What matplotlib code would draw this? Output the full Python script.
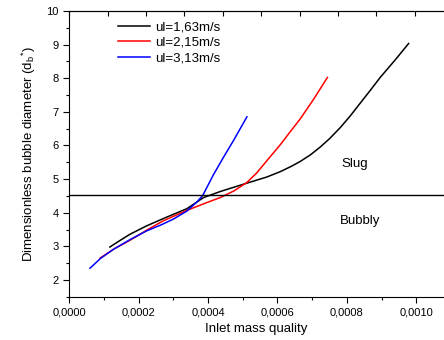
import numpy as np
import matplotlib
matplotlib.use("Agg")
import matplotlib.pyplot as plt
from matplotlib.ticker import FuncFormatter, MultipleLocator, FixedLocator

plt.rcParams['font.family'] = ['Liberation Sans', 'DejaVu Sans']

# Data
x_163 = [0.000117, 0.000150, 0.000175, 0.000223, 0.000281, 0.000339, 0.000387, 0.000435,
         0.000512, 0.000569, 0.000608, 0.000640, 0.000665, 0.000695, 0.000723, 0.000750,
         0.000781, 0.000810, 0.000838, 0.000867, 0.000896, 0.000940, 0.000978]
y_163 = [2.98, 3.20, 3.36, 3.61, 3.87, 4.12, 4.45, 4.63,
         4.88, 5.06, 5.22, 5.38, 5.52, 5.72, 5.95, 6.20,
         6.53, 6.88, 7.25, 7.63, 8.02, 8.55, 9.03]

x_215 = [0.0000886, 0.000130, 0.000175, 0.000223, 0.000271, 0.000339, 0.000396, 0.000435,
         0.000475, 0.000512, 0.000540, 0.000569, 0.000608, 0.000640, 0.000665, 0.000704,
         0.000744]
y_215 = [2.65, 2.93, 3.18, 3.48, 3.76, 4.07, 4.30, 4.45,
         4.65, 4.90, 5.18, 5.54, 6.02, 6.45, 6.78, 7.37,
         8.02]

x_313 = [0.0000597, 0.000090, 0.000127, 0.000175, 0.000223, 0.000265, 0.000300, 0.000339,
         0.000368, 0.000385, 0.000415, 0.000444, 0.000473, 0.000512]
y_313 = [2.35, 2.64, 2.91, 3.20, 3.46, 3.64, 3.81, 4.05,
         4.32, 4.52, 5.12, 5.64, 6.14, 6.85]

labels = ['ul=1,63m/s', 'ul=2,15m/s', 'ul=3,13m/s']
colors = ['black', 'red', 'blue']
transition = 4.52

fig = plt.figure(figsize=(4.44, 3.4), dpi=100)
ax = fig.add_axes([0.156, 0.127, 0.844, 0.841])

for xs, ys, lab, c in zip([x_163, x_215, x_313], [y_163, y_215, y_313], labels, colors):
    ax.plot(xs, ys, color=c, lw=1.1, label=lab)

ax.axhline(transition, color='black', lw=1.0)

ax.text(0.000824, 5.45, 'Slug', fontsize=9.5, ha='center', va='center')
ax.text(0.000838, 3.76, 'Bubbly', fontsize=9.5, ha='center', va='center')

ax.set_xlim(0, 0.00108)
ax.set_ylim(1.5, 10)

ax.xaxis.set_major_locator(MultipleLocator(0.0002))
ax.xaxis.set_minor_locator(MultipleLocator(0.0001))
ax.yaxis.set_major_locator(MultipleLocator(1))
ax.yaxis.set_minor_locator(MultipleLocator(0.5))
ax.xaxis.set_major_formatter(FuncFormatter(lambda v, p: f"{v:.4f}".replace('.', ',')))
ax.yaxis.set_major_formatter(FuncFormatter(lambda v, p: f"{int(round(v))}"))

ax.tick_params(which='major', direction='out', length=4, width=0.8, labelsize=8)
ax.tick_params(which='minor', direction='out', length=2.2, width=0.8)
ax.spines['right'].set_visible(False)
for s in ['left', 'bottom', 'top']:
    ax.spines[s].set_linewidth(0.8)

top = ax.secondary_xaxis('top')
top.xaxis.set_major_locator(FixedLocator(np.arange(0, 0.00108, 0.0001106)))
top.tick_params(direction='in', length=3.5, width=0.8, labeltop=False)
top.set_xticklabels([])

ax.set_xlabel('Inlet mass quality', fontsize=9.5, labelpad=4)
ax.set_ylabel('Dimensionless bubble diameter (d$_\\mathregular{b}$$^\\mathregular{*}$)', fontsize=9.5, labelpad=6)

ax.legend(loc='upper left', bbox_to_anchor=(0.13, 0.965), frameon=False, fontsize=9.5,
          handlelength=2.4, handletextpad=0.4, labelspacing=0.25, borderpad=0, borderaxespad=0)

fig.savefig('out.png', dpi=100)
